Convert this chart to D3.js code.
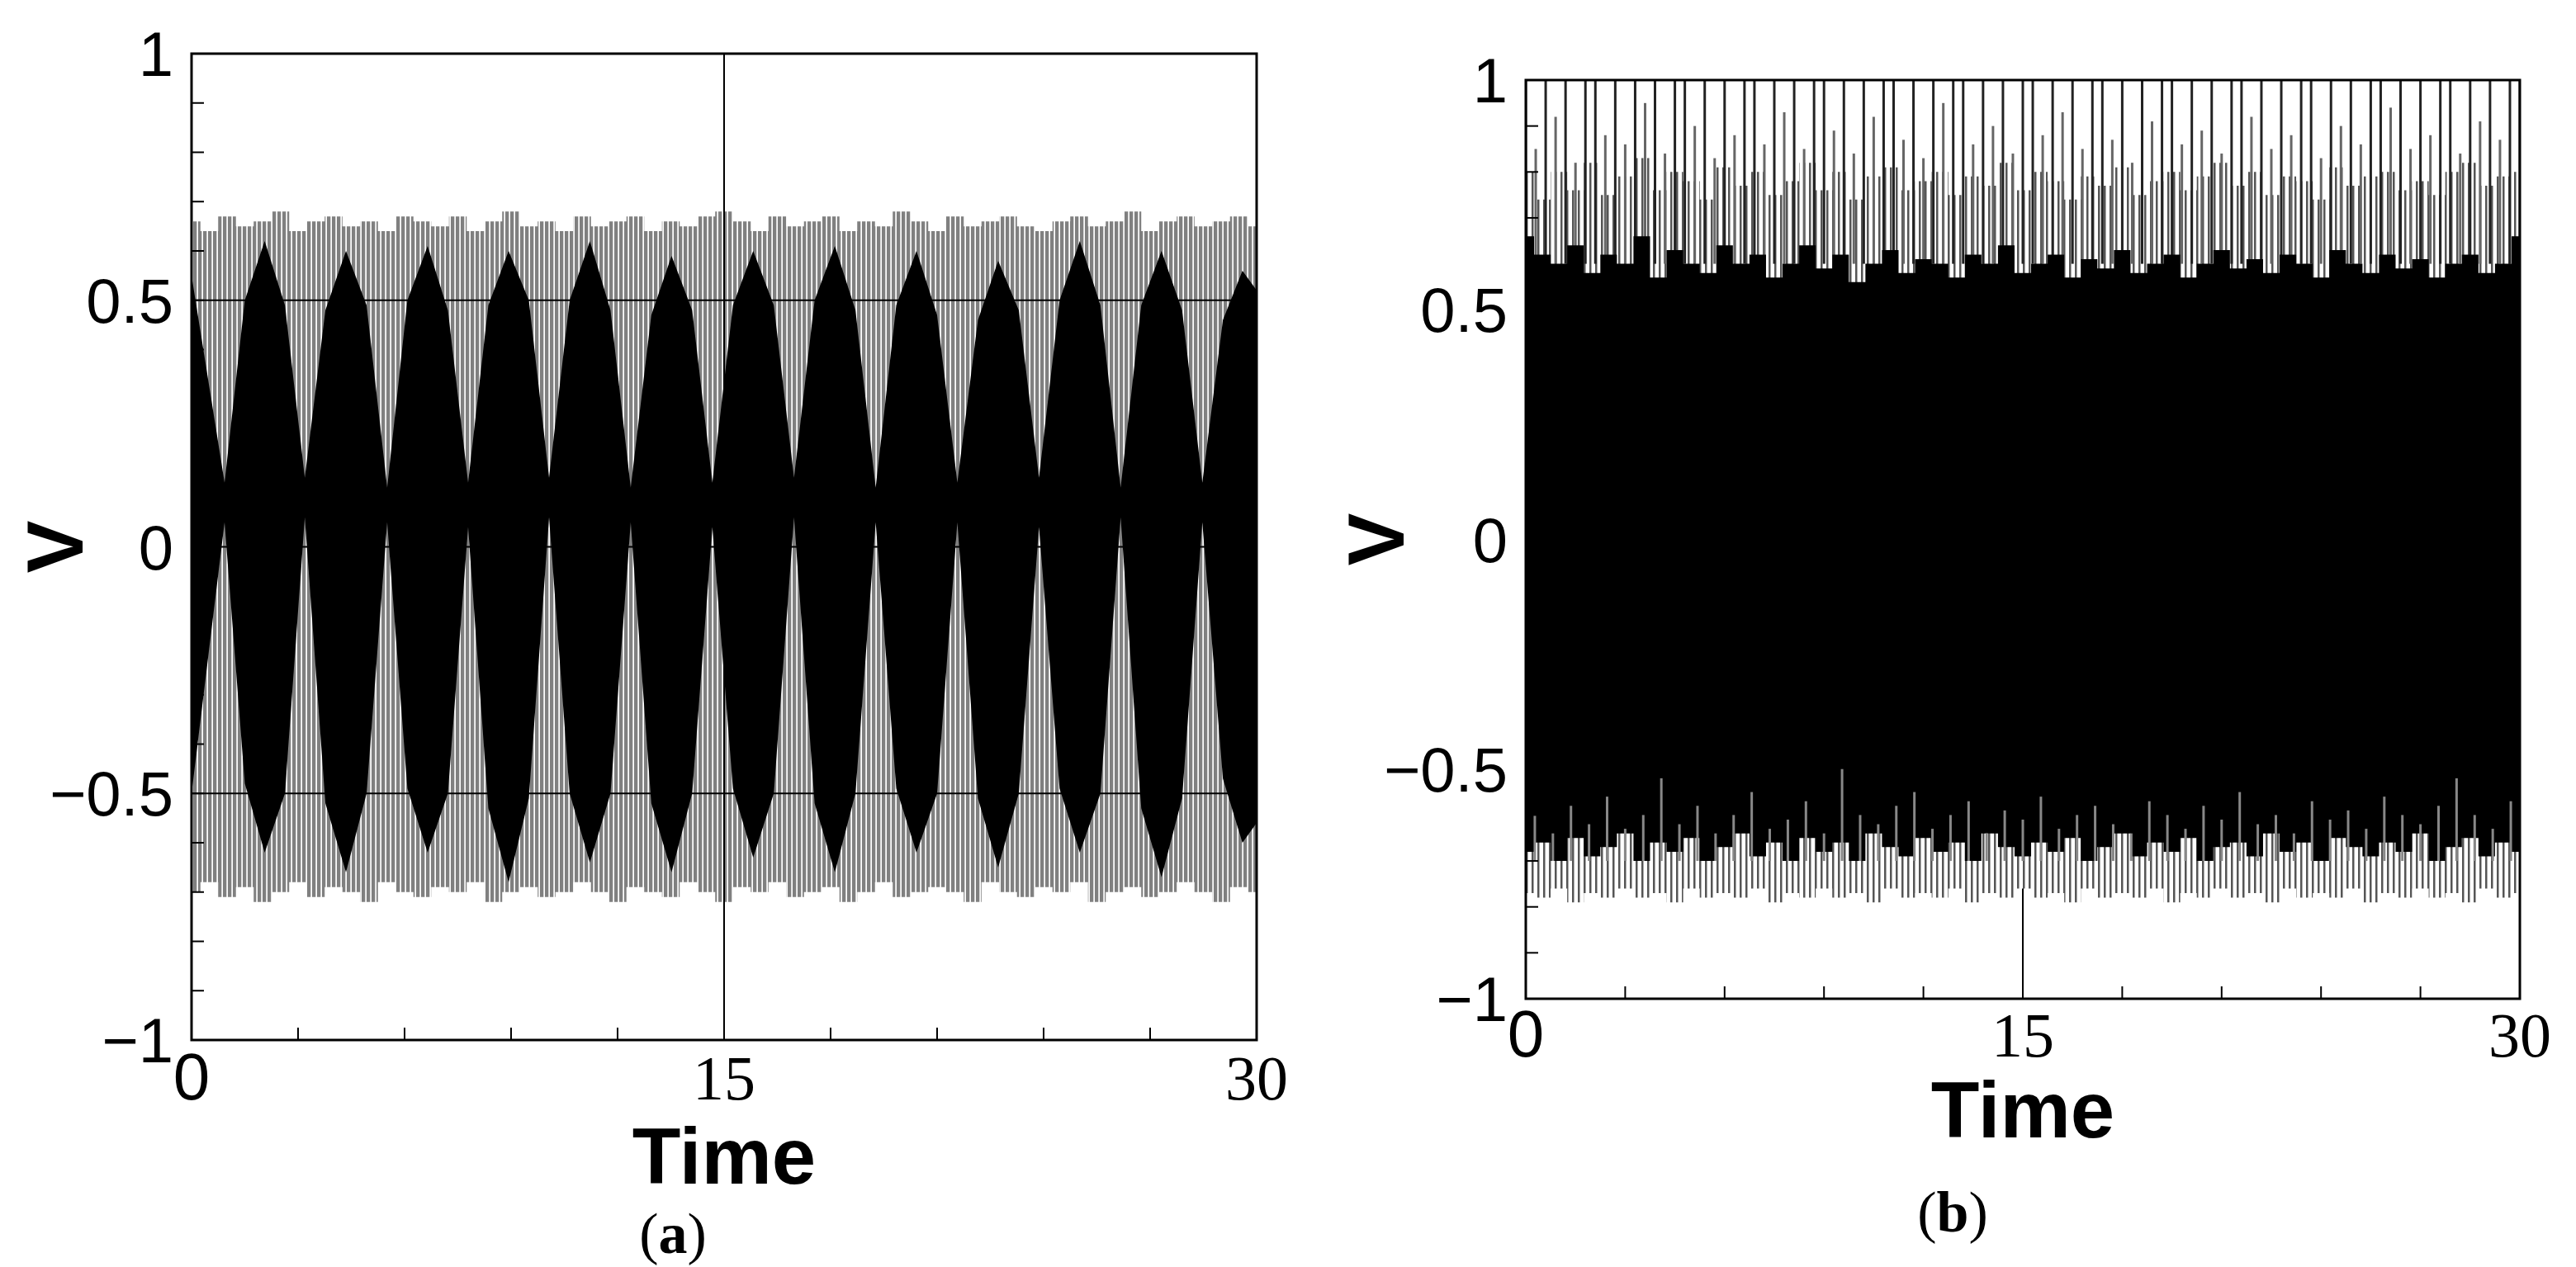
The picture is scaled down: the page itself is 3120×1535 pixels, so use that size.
<!DOCTYPE html>
<html><head><meta charset="utf-8">
<script src="https://cdn.jsdelivr.net/npm/d3@7"></script>
<style>body{margin:0;background:#fff}</style></head>
<body><svg id="c" width="3120" height="1535"></svg>
<script>
const yTicks=[1,0.5,0,-0.5,-1];
const yTickLabels=["1","0.5","0","\u22120.5","\u22121"];
const xTicks=[0,15,30];
const aGrayTop=[0.66,0.64,0.67,0.65,0.66,0.68,0.64,0.66,0.67,0.65,0.66,0.64,0.67,0.66,0.65,0.67,0.64,0.66,0.68,0.65,0.66,0.64,0.67,0.65,0.66,0.67,0.64,0.66,0.65,0.67,0.68,0.66,0.64,0.67,0.65,0.66,0.67,0.64,0.66,0.65,0.68,0.66,0.64,0.67,0.65,0.66,0.67,0.65,0.64,0.66,0.67,0.65,0.66,0.68,0.64,0.66,0.67,0.65,0.66,0.67,0.65];
const aGrayBot=[-0.70,-0.68,-0.71,-0.69,-0.72,-0.70,-0.68,-0.71,-0.69,-0.70,-0.72,-0.68,-0.70,-0.71,-0.69,-0.70,-0.68,-0.72,-0.70,-0.69,-0.71,-0.70,-0.68,-0.70,-0.72,-0.69,-0.70,-0.71,-0.68,-0.70,-0.72,-0.69,-0.70,-0.68,-0.71,-0.70,-0.69,-0.72,-0.70,-0.68,-0.71,-0.70,-0.69,-0.70,-0.72,-0.68,-0.70,-0.71,-0.69,-0.70,-0.68,-0.72,-0.70,-0.69,-0.71,-0.70,-0.68,-0.70,-0.72,-0.69,-0.70];
// black envelope: node, quarter, peak, quarter, node ...
const aBlackT=[0,0.93,1.5,2.06,2.63,3.19,3.77,4.35,4.93,5.51,6.08,6.65,7.22,7.79,8.36,8.93,9.5,10.07,10.65,11.22,11.8,12.37,12.95,13.52,14.1,14.67,15.25,15.82,16.4,16.97,17.55,18.12,18.7,19.27,19.85,20.42,21.0,21.57,22.15,22.72,23.3,23.87,24.45,25.02,25.6,26.17,26.75,27.32,27.9,28.47,29.05,29.6,30];
const aBlackUp=[0.55,0.13,0.5,0.62,0.49,0.14,0.48,0.6,0.49,0.12,0.5,0.61,0.48,0.13,0.49,0.6,0.5,0.14,0.5,0.62,0.48,0.12,0.47,0.59,0.48,0.13,0.49,0.6,0.49,0.14,0.5,0.61,0.48,0.12,0.49,0.6,0.47,0.13,0.46,0.58,0.48,0.14,0.5,0.62,0.49,0.12,0.49,0.6,0.48,0.13,0.46,0.56,0.52];
const aBlackLo=[-0.5,0.05,-0.48,-0.62,-0.5,0.06,-0.52,-0.66,-0.5,0.05,-0.49,-0.62,-0.5,0.04,-0.53,-0.68,-0.51,0.06,-0.5,-0.64,-0.5,0.05,-0.52,-0.66,-0.5,0.04,-0.49,-0.63,-0.5,0.06,-0.52,-0.66,-0.5,0.05,-0.49,-0.62,-0.5,0.05,-0.51,-0.65,-0.5,0.04,-0.49,-0.62,-0.5,0.06,-0.53,-0.67,-0.51,0.05,-0.47,-0.6,-0.56];
const bBlackTop=[0.66,0.62,0.6,0.64,0.58,0.62,0.6,0.66,0.57,0.63,0.6,0.58,0.64,0.6,0.62,0.57,0.6,0.64,0.59,0.62,0.56,0.6,0.63,0.58,0.61,0.6,0.57,0.62,0.6,0.64,0.58,0.6,0.62,0.57,0.61,0.59,0.63,0.58,0.6,0.62,0.57,0.6,0.63,0.59,0.61,0.58,0.62,0.6,0.57,0.63,0.6,0.58,0.62,0.59,0.61,0.57,0.6,0.62,0.58,0.6,0.66];
const bBandTop=[0.8,0.74,0.8,0.76,0.82,0.75,0.79,0.83,0.76,0.8,0.78,0.74,0.81,0.77,0.8,0.75,0.78,0.82,0.76,0.8,0.74,0.79,0.81,0.76,0.78,0.8,0.75,0.79,0.77,0.82,0.76,0.8,0.78,0.74,0.79,0.77,0.81,0.75,0.78,0.8,0.76,0.79,0.82,0.77,0.8,0.75,0.79,0.78,0.74,0.81,0.77,0.79,0.8,0.76,0.78,0.75,0.8,0.82,0.77,0.79,0.8];
const bSpikeTop=[1,0.85,1,0.92,1,0.82,1,1,0.88,1,0.86,1,0.95,1,0.84,1,1,0.9,1,0.83,1,0.88,1,1,0.86,1,0.93,1,0.85,1,1,0.89,1,0.84,1,0.92,1,1,0.87,1,0.83,1,0.95,1,1,0.86,1,0.9,1,0.84,1,1,0.88,1,0.93,1,0.85,1,1,0.87,1,0.82,1,0.91,1,1,0.86,1,0.89,1,0.84,1,1,0.92,1,0.85,1,0.88,1,1,0.83,1,0.9,1,0.86,1,1,0.94,1,0.85,1,0.88,1,1,0.84,1,0.91,1,0.87,1,1];
const bBlackBot=[-0.68,-0.66,-0.7,-0.65,-0.69,-0.67,-0.64,-0.7,-0.66,-0.68,-0.65,-0.7,-0.67,-0.64,-0.69,-0.66,-0.7,-0.65,-0.68,-0.66,-0.7,-0.64,-0.67,-0.69,-0.65,-0.68,-0.66,-0.7,-0.64,-0.67,-0.69,-0.66,-0.68,-0.65,-0.7,-0.67,-0.64,-0.69,-0.66,-0.68,-0.65,-0.7,-0.67,-0.66,-0.69,-0.64,-0.68,-0.66,-0.7,-0.65,-0.67,-0.69,-0.66,-0.68,-0.64,-0.7,-0.67,-0.65,-0.69,-0.66,-0.68];
const bBandBot=[-0.77,-0.78,-0.76,-0.79,-0.77,-0.78,-0.76,-0.78,-0.77,-0.79,-0.76,-0.78,-0.77,-0.78,-0.76,-0.79,-0.77,-0.78,-0.76,-0.78,-0.77,-0.79,-0.76,-0.78,-0.77,-0.78,-0.76,-0.79,-0.77,-0.78,-0.76,-0.78,-0.77,-0.79,-0.76,-0.78,-0.77,-0.78,-0.76,-0.79,-0.77,-0.78,-0.76,-0.78,-0.77,-0.79,-0.76,-0.78,-0.77,-0.78,-0.76,-0.79,-0.77,-0.78,-0.76,-0.78,-0.77,-0.79,-0.76,-0.78,-0.77];
const bSpikeBot=[-0.6,-0.64,-0.58,-0.62,-0.56,-0.63,-0.6,-0.52,-0.62,-0.58,-0.64,-0.6,-0.55,-0.63,-0.61,-0.57,-0.64,-0.5,-0.6,-0.62,-0.58,-0.55,-0.63,-0.6,-0.57,-0.64,-0.59,-0.61,-0.56,-0.63,-0.6,-0.58,-0.62,-0.64,-0.57,-0.6,-0.63,-0.58,-0.61,-0.55,-0.62,-0.6,-0.64,-0.57,-0.61,-0.59,-0.63,-0.56,-0.6,-0.62,-0.58,-0.52,-0.6,-0.63,-0.57];

const svg=d3.select("#c");
const defs=svg.append("defs");
const pat=defs.append("pattern").attr("id","stripe").attr("patternUnits","userSpaceOnUse").attr("width",6).attr("height",10);
pat.append("rect").attr("width",6).attr("height",10).attr("fill","#fff");
pat.append("rect").attr("width",4.3).attr("height",10).attr("fill","#808080");
const pat2=defs.append("pattern").attr("id","stripe2").attr("patternUnits","userSpaceOnUse").attr("width",7).attr("height",10);
pat2.append("rect").attr("width",7).attr("height",10).attr("fill","#fff");
pat2.append("rect").attr("width",2.5).attr("height",10).attr("fill","#555");

function panel(o){
  const g=svg.append("g");
  const x=d3.scaleLinear().domain([0,30]).range([o.x0,o.x1]);
  const y=d3.scaleLinear().domain([-1,1]).range([o.y1,o.y0]);
  const cp="clip"+o.id;
  defs.append("clipPath").attr("id",cp).append("rect").attr("x",o.x0).attr("y",o.y0).attr("width",o.x1-o.x0).attr("height",o.y1-o.y0);
  const d=g.append("g").attr("clip-path",`url(#${cp})`);
  o.draw(d,x,y);
  const tk=g.append("g").attr("stroke","#000").attr("stroke-width",2);
  d3.range(-0.9,1.0,0.1).forEach(v=>tk.append("line").attr("x1",o.x0).attr("x2",o.x0+15).attr("y1",y(v)).attr("y2",y(v)));
  d3.range(3,30,3).forEach(v=>tk.append("line").attr("x1",x(v)).attr("x2",x(v)).attr("y1",o.y1).attr("y2",o.y1-15));
  g.append("rect").attr("x",o.x0).attr("y",o.y0).attr("width",o.x1-o.x0).attr("height",o.y1-o.y0).attr("fill","none").attr("stroke","#000").attr("stroke-width",3);
  yTicks.forEach((v,i)=>g.append("text").attr("x",o.x0-22).attr("y",y(v)+27).attr("text-anchor","end").attr("font-family","Liberation Sans, Arial").attr("font-size",76).text(yTickLabels[i]));
  xTicks.forEach(v=>g.append("text").attr("x",x(v)).attr("y",o.y1+o.xlOff).attr("text-anchor","middle").attr("font-family",v===0?"Liberation Sans, Arial":"Liberation Serif, Times New Roman").attr("font-size",v===0?80:76).text(v));
  g.append("text").attr("x",(o.x0+o.x1)/2).attr("y",o.y1+o.tOff).attr("text-anchor","middle").attr("font-family","Liberation Sans, Arial").attr("font-weight","bold").attr("font-size",96).text("Time");
  g.append("text").attr("transform",`translate(${o.vx},${y(0)}) rotate(-90)`).attr("text-anchor","middle").attr("font-family","Liberation Sans, Arial").attr("font-weight","bold").attr("font-size",96).text("V");
  const cap=g.append("text").attr("x",o.capX).attr("y",o.capY).attr("text-anchor","middle").attr("font-family","Liberation Serif, Times New Roman").attr("font-size",70);
  cap.append("tspan").text("(");cap.append("tspan").attr("font-weight","bold").text(o.id);cap.append("tspan").text(")");
}

panel({id:"a",x0:232,x1:1522,y0:65,y1:1260,xlOff:72,tOff:174,vx:100,capX:815,capY:1518,draw:(d,x,y)=>{
  const n=aGrayTop.length;
  d.append("path").datum(d3.range(n)).attr("fill","url(#stripe)")
   .attr("d",d3.area().x(i=>x(i/(n-1)*30)).y0(i=>y(aGrayBot[i])).y1(i=>y(aGrayTop[i])).curve(d3.curveStep));
  d.append("path").datum(d3.range(aBlackT.length)).attr("fill","#000")
   .attr("d",d3.area().x(i=>x(aBlackT[i])).y0(i=>y(aBlackLo[i])).y1(i=>y(aBlackUp[i])).curve(d3.curveLinear));
  [0.5,0,-0.5].forEach(v=>d.append("line").attr("x1",x(0)).attr("x2",x(30)).attr("y1",y(v)).attr("y2",y(v)).attr("stroke","#000").attr("stroke-width",2));
  d.append("line").attr("x1",x(15)).attr("x2",x(15)).attr("y1",y(1)).attr("y2",y(-1)).attr("stroke","#000").attr("stroke-width",2);
}});

panel({id:"b",x0:1848,x1:3052,y0:97,y1:1210,xlOff:70,tOff:168,vx:1700,capX:2365,capY:1492,draw:(d,x,y)=>{
  d.append("line").attr("x1",x(15)).attr("x2",x(15)).attr("y1",y(0)).attr("y2",y(-1)).attr("stroke","#000").attr("stroke-width",2);
  const n=bBlackTop.length;
  d.append("path").datum(d3.range(n)).attr("fill","url(#stripe2)")
   .attr("d",d3.area().x(i=>x(i/(n-1)*30)).y0(i=>y(0)).y1(i=>y(bBandTop[i])).curve(d3.curveStep));
  d.append("path").datum(d3.range(n)).attr("fill","url(#stripe2)")
   .attr("d",d3.area().x(i=>x(i/(n-1)*30)).y0(i=>y(0)).y1(i=>y(bBandBot[i])).curve(d3.curveStep));
  const m=bSpikeTop.length;
  d.selectAll(".st").data(bSpikeTop).join("line").attr("x1",(v,i)=>x(i/(m-1)*30)).attr("x2",(v,i)=>x(i/(m-1)*30))
   .attr("y1",y(0.6)).attr("y2",v=>y(v)).attr("stroke",v=>v>=1?"#222":"#666").attr("stroke-width",3);
  d.append("path").datum(d3.range(n)).attr("fill","#000")
   .attr("d",d3.area().x(i=>x(i/(n-1)*30)).y0(i=>y(bBlackBot[i])).y1(i=>y(bBlackTop[i])).curve(d3.curveStep));
  const k=bSpikeBot.length;
  d.selectAll(".sb").data(bSpikeBot).join("line").attr("x1",(v,i)=>x((i+0.5)/k*30)).attr("x2",(v,i)=>x((i+0.5)/k*30))
   .attr("y1",y(-0.7)).attr("y2",v=>y(v)).attr("stroke","#888").attr("stroke-width",3);
}});
</script></body></html>
